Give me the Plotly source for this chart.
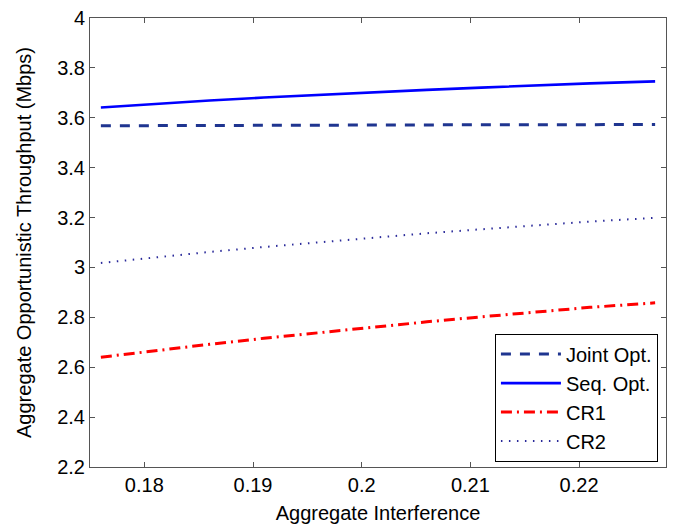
import plotly.graph_objects as go

interference = [0.176, 0.181, 0.186, 0.191, 0.196, 0.201, 0.206, 0.211, 0.216, 0.221, 0.227]
joint_opt = [3.568, 3.569, 3.569, 3.570, 3.570, 3.571, 3.571, 3.572, 3.572, 3.573, 3.573]
seq_opt = [3.641, 3.656, 3.669, 3.681, 3.692, 3.703, 3.712, 3.721, 3.730, 3.738, 3.746]
cr1 = [2.640, 2.667, 2.692, 2.716, 2.739, 2.761, 2.782, 2.802, 2.821, 2.840, 2.858]
cr2 = [3.018, 3.041, 3.062, 3.082, 3.101, 3.120, 3.137, 3.153, 3.169, 3.184, 3.199]

x_ticks = [0.18, 0.19, 0.20, 0.21, 0.22]
x_labels = ["0.18", "0.19", "0.2", "0.21", "0.22"]
y_ticks = [2.2, 2.4, 2.6, 2.8, 3.0, 3.2, 3.4, 3.6, 3.8, 4.0]
y_labels = ["2.2", "2.4", "2.6", "2.8", "3", "3.2", "3.4", "3.6", "3.8", "4"]

fig = go.Figure()
fig.add_trace(go.Scatter(x=interference, y=joint_opt, mode="lines", name="Joint Opt.",
                         line=dict(color="#1f3590", width=3, dash="10px,9px")))
fig.add_trace(go.Scatter(x=interference, y=seq_opt, mode="lines", name="Seq. Opt.",
                         line=dict(color="#0000ff", width=2.6)))
fig.add_trace(go.Scatter(x=interference, y=cr1, mode="lines", name="CR1",
                         line=dict(color="#ff0000", width=3, dash="11px,5px,2px,5px")))
fig.add_trace(go.Scatter(x=interference, y=cr2, mode="lines", name="CR2",
                         line=dict(color="#2a2a9a", width=2, dash="1.5px,6.5px")))

axis_common = dict(showline=True, linecolor="#555555", linewidth=1, mirror="ticks",
                   ticks="inside", ticklen=5, tickcolor="#555555", showgrid=False,
                   zeroline=False, tickfont=dict(size=20, color="black"))

fig.update_layout(
    width=674, height=529,
    margin=dict(l=90, r=7, t=14, b=62),
    paper_bgcolor="white", plot_bgcolor="white",
    font=dict(family="Liberation Sans, Arial, sans-serif", size=20, color="black"),
    xaxis=dict(range=[0.175, 0.228], tickvals=x_ticks, ticktext=x_labels,
               title=dict(text="Aggregate Interference", font=dict(size=20), standoff=10),
               **axis_common),
    yaxis=dict(range=[2.2, 4.0], tickvals=y_ticks, ticktext=y_labels,
               title=dict(text="Aggregate Opportunistic Throughput (Mbps)", font=dict(size=20), standoff=20),
               **axis_common),
    legend=dict(x=0.986, y=0.012, xanchor="right", yanchor="bottom",
                bordercolor="black", borderwidth=1, bgcolor="white",
                font=dict(size=20), tracegroupgap=2, itemwidth=60, entrywidth=120),
    showlegend=True,
)

fig.write_html("out.html")
